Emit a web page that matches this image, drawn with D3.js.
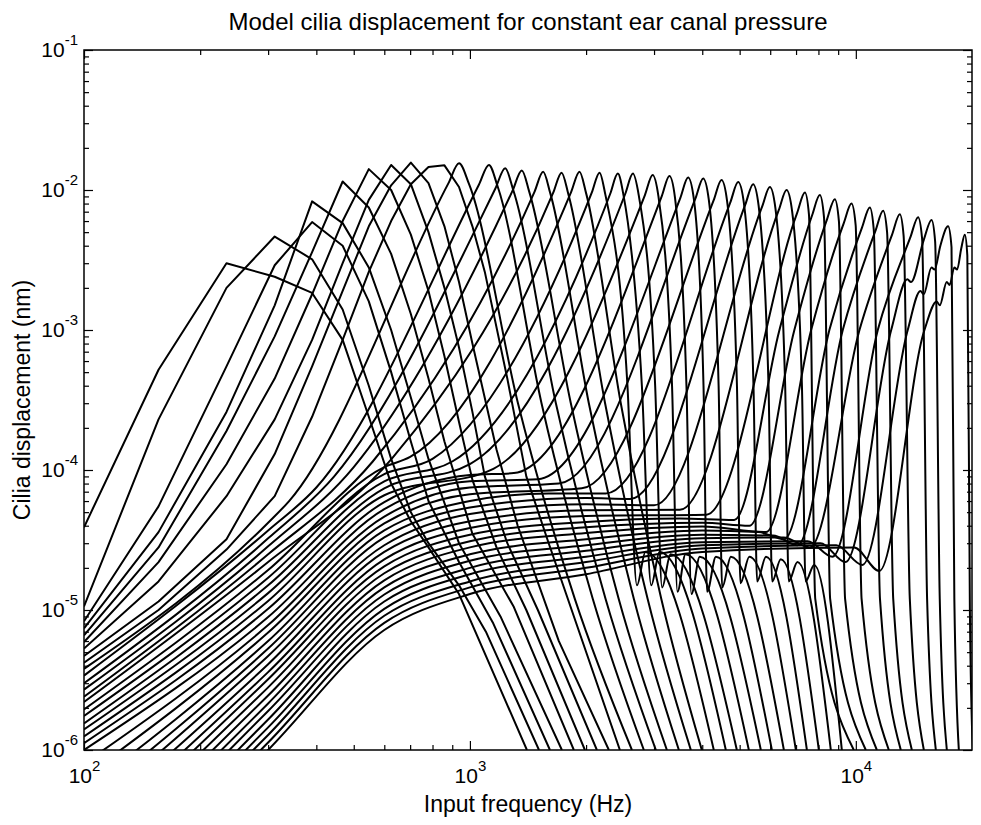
<!DOCTYPE html>
<html>
<head>
<meta charset="utf-8">
<script src="https://cdn.jsdelivr.net/npm/d3@7"></script>
<style>
  body { margin: 0; background: #fff; }
  text { font-family: "Liberation Sans", Arial, Helvetica, sans-serif; fill: #000; }
</style>
</head>
<body>
<script>
// cilia displacement (nm) vs input frequency (Hz), one array per model place
// points are [frequency, displacement]
const c01 = [[100,3.9e-5],[156,5.2e-4],[234,3.0e-3],[312,2.4e-3],[390,1.84e-3],[468,8.5e-4],[547,2.4e-4],[625,8e-5],[703,4.3e-5],[781,2.8e-5],[937,1.3e-5],[1405,1e-6]];
const c02 = [[100,1.06e-5],[156,2.3e-4],[234,2.0e-3],[312,4.65e-3],[390,3.2e-3],[468,1.4e-3],[547,4e-4],[625,1.2e-4],[703,5e-5],[781,3e-5],[937,1.5e-5],[1100,7e-6],[1510,1e-6]];
const c03 = [[100,8.3e-6],[156,5.5e-5],[234,5.5e-4],[312,2.9e-3],[390,5.9e-3],[468,4.0e-3],[547,1.6e-3],[625,5e-4],[703,1.6e-4],[781,6e-5],[937,2.2e-5],[1150,8e-6],[1612,1e-6]];
const c04 = [[100,7.4e-6],[156,3.6e-5],[234,2.6e-4],[312,1.5e-3],[390,8.3e-3],[468,5.8e-3],[547,2.8e-3],[625,1.0e-3],[703,3.3e-4],[781,1.2e-4],[937,3e-5],[1200,9e-6],[1731,1e-6]];
const c05 = [[100,6.6e-6],[156,2.8e-5],[234,1.9e-4],[312,9e-4],[390,3.6e-3],[468,1.15e-2],[547,7.5e-3],[625,3.5e-3],[703,1.3e-3],[781,4.5e-4],[859,1.6e-4],[1015,3.5e-5],[1300,1.05e-5],[1859,1e-6]];
const c06 = [[100,5.9e-6],[156,2.2e-5],[234,1.1e-4],[312,4.5e-4],[390,1.8e-3],[468,6e-3],[547,1.41e-2],[625,1.0e-2],[703,4.8e-3],[781,1.9e-3],[859,6.5e-4],[937,2.2e-4],[1015,8.5e-5],[1172,2.8e-5],[1400,1e-5],[1986,1e-6]];
const c07 = [[100,5.3e-6],[156,1.6e-5],[234,6.5e-5],[312,2.3e-4],[390,8.5e-4],[468,3e-3],[547,8.5e-3],[625,1.51e-2],[703,1.1e-2],[781,5e-3],[859,2e-3],[937,7.5e-4],[1015,2.6e-4],[1093,9e-5],[1250,3e-5],[1500,1e-5],[2133,1e-6]];
const c08 = [[100,4.7e-6],[156,1.15e-5],[234,3.2e-5],[312,1.3e-4],[390,5.5e-4],[468,1.9e-3],[547,5.5e-3],[625,1.08e-2],[703,1.57e-2],[781,1.12e-2],[859,5.5e-3],[937,2.2e-3],[1015,8e-4],[1172,1.4e-4],[1330,4e-5],[1700,6e-6],[2291,1e-6]];
const c09 = [[100,4.2e-6],[156,1.0e-5],[234,2.7e-5],[312,6.5e-5],[390,2.4e-4],[468,8.5e-4],[547,2.6e-3],[625,6e-3],[703,1.1e-2],[781,1.46e-2],[859,1.5e-2],[937,1.05e-2],[1015,5.5e-3],[1093,2.6e-3],[1250,4.5e-4],[1400,9e-5],[1600,3e-5],[2447,1e-6]];
const c10 = [[100,3.8e-6],[300,4.2e-5],[340,6e-5],[880,1.12e-2],[937,1.55e-2],[995,1.1e-2],[1332,3e-4],[1870,1.2e-5],[2629,1e-6]];
const c11 = [[100,3.4e-6],[300,3.7e-5],[400,7.5e-5],[1055,1.09e-2],[1120,1.51e-2],[1180,1.06e-2],[1533,3e-4],[2082,1.2e-5],[2823,1e-6]];
const c12 = [[100,3.0e-6],[300,3.25e-5],[445,9e-5],[1165,1.03e-2],[1234,1.43e-2],[1295,1.0e-2],[1670,3e-4],[2247,1.2e-5],[3033,1e-6]];
const c13 = [[100,2.7e-6],[300,2.85e-5],[500,1.05e-4],[1290,9.9e-3],[1363,1.38e-2],[1425,9.7e-3],[1826,3e-4],[2430,1.2e-5],[3239,1e-6]];
const c14 = [[100,2.4e-6],[300,2.5e-5],[560,1.15e-4],[1470,9.7e-3],[1548,1.35e-2],[1615,9.5e-3],[2033,3e-4],[2660,1.2e-5],[3479,1e-6]];
const c15 = [[100,2.2e-6],[300,2.2e-5],[630,1.22e-4],[1645,9.6e-3],[1728,1.33e-2],[1800,9.3e-3],[2240,3e-4],[2888,1.2e-5],[3737,1e-6]];
const c16 = [[100,1.95e-6],[300,1.93e-5],[600,1.05e-4],[700,1.24e-4],[1830,9.7e-3],[1923,1.35e-2],[2000,9.5e-3],[2460,3e-4],[3133,1.2e-5],[3990,1e-6]];
const c17 = [[100,1.75e-6],[300,1.7e-5],[600,9.35e-5],[800,1.2e-4],[2070,9.6e-3],[2167,1.33e-2],[2243,9.3e-3],[2560,4e-4],[2709,1.5e-5],[2850,2.6e-5],[4285,1e-6]];
const c18 = [[100,1.55e-6],[300,1.5e-5],[600,8.3e-5],[900,1.15e-4],[2310,9.4e-3],[2417,1.31e-2],[2500,9.2e-3],[2790,4e-4],[2950,1.5e-5],[3100,2.6e-5],[4604,1e-6]];
const c19 = [[100,1.4e-6],[300,1.32e-5],[600,7.4e-5],[1000,1.1e-4],[2527,9.4e-3],[2645,1.31e-2],[2738,9.2e-3],[3020,4e-4],[3148,1.45e-5],[3310,2.5e-5],[4917,1e-6]];
const c20 = [[100,1.25e-6],[300,1.16e-5],[600,6.6e-5],[1150,1.02e-4],[2841,9.2e-3],[2975,1.28e-2],[3080,9e-3],[3340,4e-4],[3450,1.35e-5],[3620,2.5e-5],[5282,1e-6]];
const c21 = [[100,1.12e-6],[300,1.02e-5],[600,5.9e-5],[1000,9.2e-5],[1300,9.5e-5],[3140,9e-3],[3288,1.26e-2],[3400,8.8e-3],[3640,4e-4],[3750,1.3e-5],[3940,2.4e-5],[5674,1e-6]];
const c22 = [[100,1.0e-6],[300,8.9e-6],[600,5.25e-5],[1000,8.3e-5],[1500,8.6e-5],[3510,8.8e-3],[3676,1.23e-2],[3805,8.6e-3],[4030,4e-4],[4117,1.35e-5],[4340,2.4e-5],[6060,1e-6]];
const c23 = [[100,8e-7],[300,7.8e-6],[600,4.65e-5],[1000,7.5e-5],[1700,8e-5],[3841,8.7e-3],[4022,1.21e-2],[4160,8.5e-3],[4410,4e-4],[4505,1.45e-5],[4745,2.4e-5],[6510,1e-6]];
const c24 = [[100,6.4e-7],[300,6.9e-6],[600,4.15e-5],[1000,6.7e-5],[1950,7.4e-5],[4285,8.5e-3],[4487,1.18e-2],[4640,8.3e-3],[4920,4e-4],[5025,1.55e-5],[5295,2.4e-5],[6993,1e-6]];
const c25 = [[100,5.1e-7],[300,6.0e-6],[600,3.7e-5],[1000,6.0e-5],[1600,6.8e-5],[2250,6.8e-5],[4732,8.2e-3],[4955,1.14e-2],[5130,8e-3],[5430,4e-4],[5550,1.6e-5],[5850,2.4e-5],[7468,1e-6]];
const c26 = [[100,4.1e-7],[300,5.3e-6],[600,3.3e-5],[1000,5.4e-5],[2000,6.3e-5],[2600,6.2e-5],[5174,7.9e-3],[5418,1.10e-2],[5600,7.7e-3],[5940,4e-4],[6070,1.6e-5],[6390,2.3e-5],[8020,1e-6]];
const c27 = [[100,3.3e-7],[300,4.7e-6],[600,2.9e-5],[1000,4.85e-5],[2000,5.7e-5],[3000,5.6e-5],[5717,7.6e-3],[5986,1.05e-2],[6190,7.4e-3],[6560,4e-4],[6700,1.6e-5],[7060,2.2e-5],[8614,1e-6]];
const c28 = [[100,2.7e-7],[300,4.1e-6],[600,2.6e-5],[1000,4.3e-5],[2000,5.15e-5],[3500,5.2e-5],[6316,7.2e-3],[6614,1.0e-2],[6840,7e-3],[7250,4e-4],[7410,1.6e-5],[7800,2.1e-5],[9199,1e-6]];
const c29 = [[100,2.2e-7],[300,3.6e-6],[600,2.3e-5],[1000,3.85e-5],[2000,4.7e-5],[4100,4.8e-5],[7050,6.9e-3],[7379,9.6e-3],[7560,6.7e-3],[7850,1.2e-5],[9881,1e-6]];
const c30 = [[100,1.8e-7],[300,3.2e-6],[600,2.05e-5],[1000,3.45e-5],[2000,4.25e-5],[3500,4.5e-5],[4840,4.4e-5],[6340,1e-3],[7705,6.6e-3],[8067,9.2e-3],[8270,6.4e-3],[8580,1.2e-5],[10614,1e-6]];
const c31 = [[100,1.5e-7],[300,2.8e-6],[600,1.83e-5],[1000,3.1e-5],[2000,3.9e-5],[4000,4.2e-5],[5300,4.0e-5],[6930,1e-3],[8425,6.2e-3],[8821,8.6e-3],[9040,6e-3],[9380,1.2e-5],[11337,1e-6]];
const c32 = [[100,1.25e-7],[300,2.45e-6],[600,1.63e-5],[1000,2.8e-5],[2000,3.55e-5],[4000,3.95e-5],[5850,3.6e-5],[7660,1e-3],[9307,5.8e-3],[9745,8.0e-3],[9990,5.6e-3],[10350,1.2e-5],[12177,1e-6]];
const c33 = [[100,1.05e-7],[300,2.15e-6],[600,1.45e-5],[1000,2.5e-5],[2000,3.2e-5],[4000,3.7e-5],[5600,3.6e-5],[6520,3.2e-5],[8540,1e-3],[10380,5.4e-3],[10870,7.5e-3],[11130,5.2e-3],[11550,1.2e-5],[13079,1e-6]];
const c34 = [[100,9e-8],[300,1.9e-6],[600,1.29e-5],[1000,2.25e-5],[2000,2.9e-5],[4000,3.45e-5],[6100,3.4e-5],[7060,2.9e-5],[9250,1e-3],[11240,5.1e-3],[11770,7.1e-3],[12050,5e-3],[12500,1.2e-5],[13970,1e-6]];
const c35 = [[100,7.8e-8],[300,1.65e-6],[600,1.15e-5],[1000,2.0e-5],[2000,2.65e-5],[4000,3.25e-5],[6500,3.3e-5],[7600,2.8e-5],[10220,1e-3],[12415,4.8e-3],[13000,6.7e-3],[13300,4.7e-3],[13800,1.2e-5],[15006,1e-6]];
const c36 = [[100,6.8e-8],[300,1.45e-6],[600,1.02e-5],[1000,1.8e-5],[2000,2.4e-5],[4000,3.05e-5],[7500,3.1e-5],[8700,2.4e-5],[11400,1e-3],[13850,4.6e-3],[14500,6.4e-3],[14850,4.5e-3],[15300,1.2e-5],[16120,1e-6]];
const c37 = [[100,6e-8],[300,1.28e-6],[600,9.1e-6],[1000,1.6e-5],[2000,2.2e-5],[4000,2.9e-5],[8100,3.0e-5],[9400,2.2e-5],[12350,1e-3],[13600,2.3e-3],[13900,2.2e-3],[15000,4.4e-3],[15710,6.1e-3],[16050,4.3e-3],[16500,1.2e-5],[17212,1e-6]];
const c38 = [[100,5.5e-8],[300,1.13e-6],[600,8.1e-6],[1000,1.45e-5],[2000,2.0e-5],[4000,2.75e-5],[8900,2.9e-5],[10400,2.1e-5],[13630,1e-3],[14700,1.9e-3],[15000,1.8e-3],[15700,2.8e-3],[16000,2.7e-3],[16560,4.0e-3],[17340,5.5e-3],[17700,3.9e-3],[18000,1.2e-5],[18490,1e-6]];
const c39 = [[100,5e-8],[300,1.0e-6],[600,7.2e-6],[1000,1.3e-5],[2000,1.8e-5],[4000,2.6e-5],[9900,2.8e-5],[11500,1.9e-5],[15060,1e-3],[16200,1.6e-3],[16500,1.5e-3],[17200,2.2e-3],[17500,2.1e-3],[18000,2.8e-3],[18300,2.7e-3],[18750,3.8e-3],[19160,4.8e-3],[19450,3.4e-3],[19750,1e-5],[20100,1e-6]];

const curves = [c01,c02,c03,c04,c05,c06,c07,c08,c09,c10,c11,c12,c13,c14,c15,c16,c17,c18,c19,c20,
                c21,c22,c23,c24,c25,c26,c27,c28,c29,c30,c31,c32,c33,c34,c35,c36,c37,c38,c39];

const xDomain = [100, 20000];
const yDomain = [1e-6, 1e-1];
const xMajor = [1e2, 1e3, 1e4];
const yMajor = [1e-6, 1e-5, 1e-4, 1e-3, 1e-2, 1e-1];

const titleText = "Model cilia displacement for constant ear canal pressure";
const xTitle = "Input frequency (Hz)";
const yTitle = "Cilia displacement (nm)";

// ---------------------------------------------------------------
(function () {
var W = 981, H = 825;
var pl = 84, pr = 972, pt = 50, pb = 750;

var svg = d3.select("body").append("svg")
    .attr("width", W)
    .attr("height", H);

var x = d3.scaleLog().domain(xDomain).range([pl, pr]);
var y = d3.scaleLog().domain(yDomain).range([pb, pt]);

svg.append("clipPath").attr("id", "plotclip")
  .append("rect")
    .attr("x", pl).attr("y", pt)
    .attr("width", pr - pl).attr("height", pb - pt);

// curves: the low places were computed on a coarse grid, so draw them straight
var lineStraight = d3.line().x(function(d){ return x(d[0]); }).y(function(d){ return y(d[1]); })
    .curve(d3.curveLinear);
var lineSmooth = d3.line().x(function(d){ return x(d[0]); }).y(function(d){ return y(d[1]); })
    .curve(d3.curveMonotoneX);

svg.append("g").attr("clip-path", "url(#plotclip)")
  .selectAll("path")
  .data(curves)
  .enter().append("path")
    .attr("d", function(d, i){ return i < 9 ? lineStraight(d) : lineSmooth(d); })
    .attr("fill", "none")
    .attr("stroke", "#000")
    .attr("stroke-width", 2)
    .attr("stroke-linejoin", "round");

// axes, MATLAB style: ticks inward on all four sides
var xMinor = x.ticks().filter(function(d){ return xMajor.indexOf(d) < 0 && d < xDomain[1]; });
var yMinor = y.ticks().filter(function(d){ return yMajor.every(function(m){ return Math.abs(m - d) / m > 1e-6; }); });

function styleAxis(g) {
  g.select(".domain").remove();
  g.selectAll(".tick line").attr("stroke", "#000").attr("stroke-width", 1.2);
}

function powerLabels(g) {
  g.selectAll(".tick text").each(function(d) {
    var t = d3.select(this);
    t.text(null).attr("font-size", 21);
    t.append("tspan").text("10");
    t.append("tspan").attr("dy", -12).attr("font-size", 15).text(Math.round(Math.log10(d)));
  });
}

// bottom
svg.append("g").attr("transform", "translate(0," + pb + ")")
  .call(d3.axisBottom(x).tickValues(xMajor).tickSize(-9).tickSizeOuter(0).tickPadding(18).tickFormat(""))
  .call(styleAxis).call(powerLabels);
svg.append("g").attr("transform", "translate(0," + pb + ")")
  .call(d3.axisBottom(x).tickValues(xMinor).tickSize(-5).tickSizeOuter(0).tickFormat(""))
  .call(styleAxis);
// top
svg.append("g").attr("transform", "translate(0," + pt + ")")
  .call(d3.axisTop(x).tickValues(xMajor).tickSize(-9).tickSizeOuter(0).tickFormat(""))
  .call(styleAxis);
svg.append("g").attr("transform", "translate(0," + pt + ")")
  .call(d3.axisTop(x).tickValues(xMinor).tickSize(-5).tickSizeOuter(0).tickFormat(""))
  .call(styleAxis);
// left
svg.append("g").attr("transform", "translate(" + pl + ",0)")
  .call(d3.axisLeft(y).tickValues(yMajor).tickSize(-9).tickSizeOuter(0).tickPadding(6).tickFormat(""))
  .call(styleAxis).call(powerLabels);
svg.append("g").attr("transform", "translate(" + pl + ",0)")
  .call(d3.axisLeft(y).tickValues(yMinor).tickSize(-5).tickSizeOuter(0).tickFormat(""))
  .call(styleAxis);
// right
svg.append("g").attr("transform", "translate(" + pr + ",0)")
  .call(d3.axisRight(y).tickValues(yMajor).tickSize(-9).tickSizeOuter(0).tickFormat(""))
  .call(styleAxis);
svg.append("g").attr("transform", "translate(" + pr + ",0)")
  .call(d3.axisRight(y).tickValues(yMinor).tickSize(-5).tickSizeOuter(0).tickFormat(""))
  .call(styleAxis);

// frame
svg.append("rect")
    .attr("x", pl).attr("y", pt)
    .attr("width", pr - pl).attr("height", pb - pt)
    .attr("fill", "none").attr("stroke", "#000").attr("stroke-width", 1.5);

// texts
svg.append("text")
    .attr("x", (pl + pr) / 2).attr("y", 30)
    .attr("text-anchor", "middle").attr("font-size", 24)
    .text(titleText);
svg.append("text")
    .attr("x", (pl + pr) / 2).attr("y", 812)
    .attr("text-anchor", "middle").attr("font-size", 23)
    .text(xTitle);
svg.append("text")
    .attr("transform", "translate(30," + (pt + pb) / 2 + ") rotate(-90)")
    .attr("text-anchor", "middle").attr("font-size", 23)
    .text(yTitle);
})();
</script>
</body>
</html>
